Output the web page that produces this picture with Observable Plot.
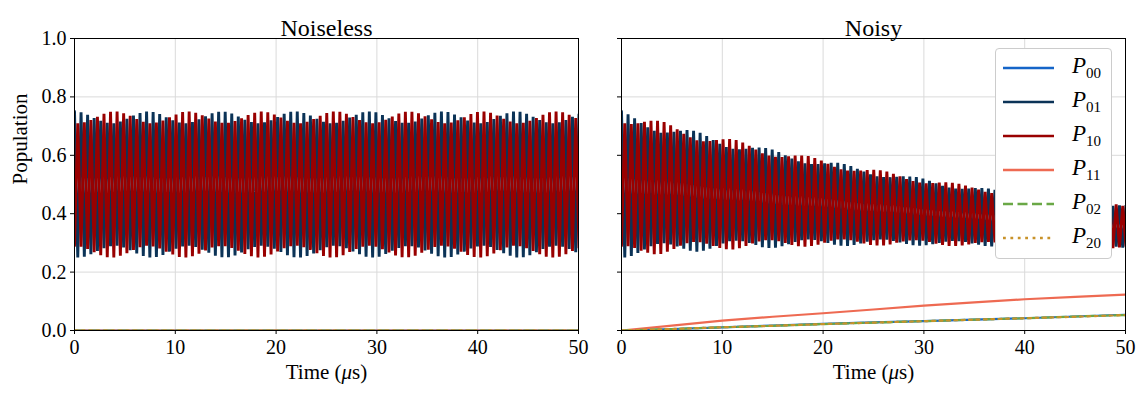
<!DOCTYPE html>
<html><head><meta charset="utf-8">
<script src="https://cdn.jsdelivr.net/npm/d3@7"></script>
<script src="https://cdn.jsdelivr.net/npm/@observablehq/plot@0.6"></script>
<style>
body{margin:0;background:#fff;}
#wrap{position:relative;width:1146px;height:400px;font-family:"Liberation Serif",serif;overflow:hidden;}
#left{position:absolute;left:0;top:0;z-index:1;}
#right{position:absolute;left:580px;top:0;z-index:1;}
#legend{position:absolute;left:995px;top:48px;width:117px;height:211px;border:1px solid #cccccc;border-radius:4px;background:#fff;box-sizing:border-box;z-index:5;}
.lrow{position:absolute;left:0;width:117px;height:34px;}
.lrow svg{position:absolute;left:7px;top:0;}
.lrow .lab{position:absolute;left:76px;top:3px;font-size:23px;line-height:24px;color:#000;}
.lrow .lab sub{font-size:15px;vertical-align:-5px;font-style:normal;}
</style></head><body>
<div id="wrap"><div id="left"></div><div id="right"></div><div id="legend"></div></div>
<script>
// ---- data ----
const seriesNames = ["P00","P01","P10","P11","P02","P20"];
const seriesColors = ["#1565c8","#0b3357","#990000","#ee6a52","#6aa846","#c8922a"];
const xTicks = [0,10,20,30,40,50];
const yTicks = [0,0.2,0.4,0.6,0.8,1.0];
const panelTitles = ["Noiseless","Noisy"];

// times of P01 maxima (one per fast cycle), and half-cycle offset to the minima
const cycleT = [0,0.65,1.3,1.95,2.6,3.25,3.9,4.55,5.2,5.85,6.5,7.15,7.8,8.45,9.1,9.75,10.4,11.05,11.7,12.35,13,13.65,14.3,14.95,15.6,16.25,16.9,17.55,18.2,18.85,19.5,20.15,20.8,21.45,22.1,22.75,23.4,24.05,24.7,25.35,26,26.65,27.3,27.95,28.6,29.25,29.9,30.55,31.2,31.85,32.5,33.15,33.8,34.45,35.1,35.75,36.4,37.05,37.7,38.35,39,39.65,40.3,40.95,41.6,42.25,42.9,43.55,44.2,44.85,45.5,46.15,46.8,47.45,48.1,48.75,49.4,50.05];
const halfCycle = 0.325;

// noiseless oscillation half-amplitudes per cycle (around 0.5)
const amp01 = [0.250,0.247,0.239,0.228,0.218,0.211,0.210,0.216,0.225,0.236,0.245,0.250,0.248,0.241,0.230,0.220,0.212,0.210,0.214,0.223,0.234,0.244,0.249,0.249,0.243,0.233,0.222,0.214,0.210,0.213,0.220,0.231,0.242,0.249,0.250,0.245,0.236,0.225,0.215,0.210,0.211,0.218,0.229,0.239,0.247,0.250,0.247,0.238,0.227,0.217,0.211,0.211,0.216,0.226,0.237,0.246,0.250,0.248,0.240,0.230,0.219,0.212,0.210,0.214,0.224,0.235,0.244,0.250,0.249,0.242,0.232,0.221,0.213,0.210,0.213,0.221,0.232,0.242];
const amp10 = [0.210,0.213,0.221,0.232,0.242,0.249,0.250,0.244,0.235,0.224,0.215,0.210,0.212,0.219,0.230,0.240,0.248,0.250,0.246,0.237,0.226,0.216,0.211,0.211,0.217,0.227,0.238,0.246,0.250,0.247,0.240,0.229,0.218,0.211,0.210,0.215,0.224,0.235,0.245,0.250,0.249,0.242,0.231,0.221,0.213,0.210,0.213,0.222,0.233,0.243,0.249,0.249,0.244,0.234,0.223,0.214,0.210,0.212,0.220,0.230,0.241,0.248,0.250,0.246,0.236,0.225,0.216,0.210,0.211,0.218,0.228,0.239,0.247,0.250,0.247,0.239,0.228,0.218];

// noisy: band centre and amplitude decay per cycle
const noisyCenter = [0.500,0.498,0.496,0.494,0.492,0.490,0.488,0.486,0.484,0.482,0.480,0.477,0.475,0.473,0.471,0.469,0.467,0.465,0.463,0.461,0.459,0.456,0.454,0.452,0.450,0.448,0.446,0.444,0.442,0.440,0.438,0.436,0.434,0.432,0.430,0.428,0.426,0.424,0.422,0.420,0.418,0.416,0.414,0.412,0.410,0.408,0.406,0.404,0.402,0.400,0.398,0.396,0.394,0.392,0.391,0.389,0.387,0.385,0.384,0.382,0.380,0.378,0.377,0.375,0.373,0.372,0.370,0.368,0.367,0.365,0.364,0.362,0.361,0.359,0.358,0.357,0.356,0.355];
const noisyDecay = [1.0,0.983,0.966,0.95,0.934,0.918,0.902,0.887,0.872,0.857,0.843,0.829,0.815,0.801,0.788,0.775,0.762,0.749,0.736,0.723,0.711,0.699,0.687,0.675,0.664,0.653,0.642,0.631,0.62,0.61,0.6,0.59,0.58,0.57,0.561,0.552,0.543,0.534,0.525,0.516,0.508,0.5,0.492,0.484,0.476,0.469,0.462,0.455,0.448,0.441,0.434,0.427,0.421,0.415,0.409,0.403,0.397,0.391,0.386,0.381,0.376,0.371,0.366,0.361,0.357,0.352,0.348,0.344,0.34,0.336,0.332,0.328,0.324,0.321,0.318,0.315,0.312,0.309];

// slow populations
const slowT = [0,5,10,15,20,25,30,35,40,45,50];
const noiselessZero = [0,0,0,0,0,0,0,0,0,0,0];
const noisyP00 = [0,0.005,0.011,0.017,0.023,0.028,0.032,0.037,0.042,0.048,0.054];
const noisyP11 = [0,0.017,0.034,0.047,0.059,0.072,0.085,0.096,0.107,0.115,0.123];
const noisyP02 = [0,0.005,0.011,0.016,0.022,0.027,0.032,0.037,0.042,0.048,0.053];
const noisyP20 = [0,0.005,0.011,0.016,0.022,0.027,0.032,0.037,0.042,0.047,0.053];

// ---- build tables ----
function fastRows(center, decay) {
  const p01 = [], p10 = [];
  cycleT.forEach((t, k) => {
    const c = center ? center[k] : 0.5;
    const d = decay ? decay[k] : 1;
    p01.push({t, v: c + amp01[k]*d});
    p01.push({t: t + halfCycle, v: c - amp01[k]*d});
    p10.push({t, v: c - amp10[k]*d});
    p10.push({t: t + halfCycle, v: c + amp10[k]*d});
  });
  return {P01: p01, P10: p10};
}
function slowRows(vals) { return slowT.map((t,i)=>({t, v: vals[i]})); }

const panels = [
  Object.assign(fastRows(null,null), {P00: slowRows(noiselessZero), P11: slowRows(noiselessZero), P02: slowRows(noiselessZero), P20: slowRows(noiselessZero)}),
  Object.assign(fastRows(noisyCenter,noisyDecay), {P00: slowRows(noisyP00), P11: slowRows(noisyP11), P02: slowRows(noisyP02), P20: slowRows(noisyP20)})
];

const dash = {P00:null,P01:null,P10:null,P11:null,P02:"10,4.5",P20:"2.8,4.6"};
const font = "Liberation Serif, serif";

function makePanel(i, width, mL, mR) {
  const d = panels[i];
  const lines = seriesNames.map((s, j) => Plot.line(d[s], {
    x: "t", y: "v", stroke: seriesColors[j], strokeWidth: (s==="P01"||s==="P10") ? 2.9 : 2.2,
    strokeDasharray: dash[s], clip: true, curve: "linear", strokeLinejoin: "miter", strokeMiterlimit: 3
  }));
  const marks = [
    Plot.gridX(xTicks, {stroke: "#dadada", strokeOpacity: 1, strokeWidth: 1}),
    Plot.gridY(yTicks, {stroke: "#dadada", strokeOpacity: 1, strokeWidth: 1}),
    ...lines,
    Plot.frame({stroke: "#000", strokeWidth: 1}),
    Plot.axisX(xTicks, {tickSize: 4, tickPadding: 5, label: null, fontSize: 20, tickFormat: d => String(d)}),
    Plot.axisY(yTicks, {tickSize: 4, tickPadding: 4, label: null, fontSize: 20, tickFormat: i===0 ? d3.format(".1f") : () => ""}),
    Plot.text([panelTitles[i]], {frameAnchor: "top", dy: -20, fontSize: 24, fill: "#000"}),
    Plot.text(["Time (μs)"], {frameAnchor: "bottom", dy: 48, fontSize: 21, fill: "#000"})
  ];
  if (i === 0) marks.push(Plot.text(["Population"], {frameAnchor: "left", dx: -54, rotate: -90, fontSize: 21, fill: "#000"}));
  const svg = Plot.plot({
    width, height: 400, marginTop: 38, marginBottom: 70, marginLeft: mL, marginRight: mR,
    style: {fontFamily: font, color: "#000", background: "transparent", overflow: "visible"},
    x: {domain: [0, 50]},
    y: {domain: [0, 1]},
    marks
  });
  d3.select(svg).selectAll("text").filter(function(){ return this.textContent === "Time (μs)"; })
    .each(function(){
      const el = d3.select(this);
      const tgt = el.select("tspan").empty() ? el : el.select("tspan");
      tgt.text(null);
      tgt.append("tspan").text("Time (");
      tgt.append("tspan").attr("font-style","italic").text("μ");
      tgt.append("tspan").text("s)");
    });
  return svg;
}

document.getElementById("left").appendChild(makePanel(0, 580, 74, 2));
document.getElementById("right").appendChild(makePanel(1, 566, 41, 21));

// legend
const leg = d3.select("#legend");
seriesNames.forEach((s, j) => {
  const row = leg.append("div").attr("class","lrow").style("top", (2 + 34*j) + "px");
  const sv = row.append("svg").attr("width", 52).attr("height", 34);
  sv.append("line").attr("x1",0).attr("x2",51).attr("y1",17).attr("y2",17)
    .attr("stroke", seriesColors[j]).attr("stroke-width", 2.4)
    .attr("stroke-dasharray", dash[s]);
  row.append("div").attr("class","lab").html(`<i>P</i><sub>${s.slice(1)}</sub>`);
});
</script>
</body></html>
